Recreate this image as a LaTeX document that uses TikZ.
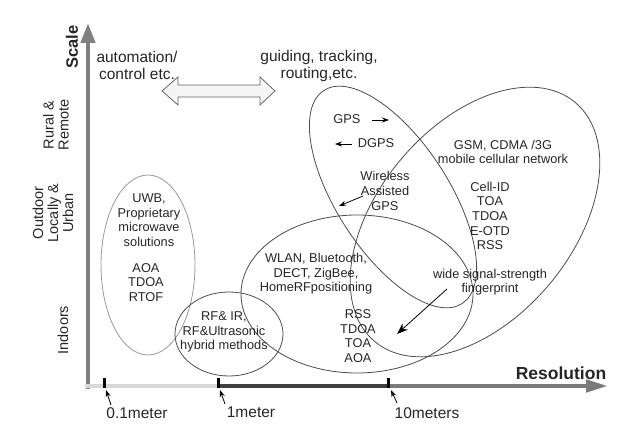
\documentclass[tikz,border=0pt]{standalone}
\usepackage{fontspec}
\setmainfont{Liberation Sans}
\usepackage{tikz}
\usetikzlibrary{arrows.meta,positioning,calc}

\begin{document}
\begin{tikzpicture}[x=1pt,y=-1pt,
    lbl/.style={font=\fontsize{12.8}{14.6}\selectfont,align=center,text=black!85,inner sep=0pt},
    toplbl/.style={font=\fontsize{15.5}{17}\selectfont,align=center,text=black!85,inner sep=0pt},
    sidelbl/.style={font=\fontsize{14.5}{15}\selectfont,align=center,rotate=90,text=black!85,inner sep=0pt},
    region/.style={draw=black!70,line width=0.8pt},
    ptr/.style={-{Stealth[length=7pt,width=5pt]},line width=0.8pt,black},
    tickmark/.style={fill=black}]
      \useasboundingbox (0,0) rectangle (622,446);
      % Axes
      \draw[line width=4.5pt,black!50,-{Triangle[length=20pt,width=14pt]}] (88,389) -- (88,23);
      \draw[line width=3.5pt,black!15] (85,386) -- (218,386);
      \draw[line width=4.5pt,black!75] (218,386) -- (388,386);
      \draw[line width=4.5pt,black!52,-{Triangle[length=22pt,width=12pt]}] (388,386) -- (608,386);
      \node[font=\bfseries\fontsize{16.5}{18}\selectfont,rotate=90,text=black!85] (scale) at (72,47) {Scale};
      \node[font=\bfseries\fontsize{17.5}{19}\selectfont,text=black!85] (res) at (561,373) {Resolution};
      % Scale levels
      \node[sidelbl] (rural) at (56,125) {Rural \&\\Remote};
      \node[sidelbl] (outdoor) at (53,213) {Outdoor\\Locally \&\\Urban};
      \node[sidelbl] (indoor) at (63,330) {Indoors};
      % Resolution marks
      \fill[tickmark] (102.5,378) rectangle (105.5,388);
      \fill[tickmark] (216.5,378) rectangle (219.5,388);
      \fill[tickmark] (386.5,378) rectangle (389.5,388);
      \node[toplbl] (m01) at (137,413) {0.1meter};
      \node[toplbl] (m1) at (251,412) {1meter};
      \node[toplbl] (m10) at (427,413) {10meters};
      \coordinate (a01) at (111,405); \coordinate (t01) at (106,390);
      \coordinate (a1) at (225,404); \coordinate (t1) at (220,390);
      \coordinate (a10) at (397,403); \coordinate (t10) at (391,390);
      \draw[ptr] (a01) -- (t01);
      \draw[ptr] (a1) -- (t1);
      \draw[ptr] (a10) -- (t10);
      % Applications
      \node[toplbl] (auto) at (137,65.5) {automation/\\control etc.};
      \node[toplbl] (guide) at (319,65.5) {guiding, tracking,\\routing,etc.};
      \draw[black!60,fill=black!4,line width=0.8pt] (162,91) -- (178,77) -- (178,85) -- (260,85)
        -- (260,77) -- (275,91) -- (260,105) -- (260,97) -- (178,97) -- (178,105) -- cycle;
      % Technology regions
      \draw[black!40,line width=0.8pt] (148,265) ellipse (47 and 90);
      \draw[region] (229,334) ellipse (54 and 42);
      \draw[region] (357,294) ellipse (116 and 79);
      \draw[region,rotate around={-57:(393,197)}] (393,197) ellipse (127 and 56);
      \draw[region,rotate around={50:(475,222)}] (475,222) ellipse (156 and 97);
      % Region labels
      \node[lbl] (uwb) at (149,220) {UWB,\\Proprietary\\microwave\\solutions};
      \node[lbl] (uwbm) at (146,282.5) {AOA\\TDOA\\RTOF};
      \node[lbl] (rf) at (224,332) {RF\& IR,\\RF\&Ultrasonic\\hybrid methods};
      \node[lbl] (wlan) at (316,274) {WLAN, Bluetooth,\\DECT, ZigBee,\\HomeRFpositioning};
      \node[lbl] (wlanm) at (358,336) {RSS\\TDOA\\TOA\\AOA};
      \node[lbl] (gps) at (347,119) {GPS};
      \node[lbl] (dgps) at (376,143) {DGPS};
      \node[lbl] (agps) at (385,191) {Wireless\\Assisted\\GPS};
      \node[lbl] (gsm) at (503,152) {GSM, CDMA /3G\\mobile cellular network};
      \node[lbl] (gsmm) at (490,216) {Cell-ID\\TOA\\TDOA\\E-OTD\\RSS};
      \node[lbl] (fp) at (490,282) {wide signal-strength\\fingerprint};
      % Pointers
      \coordinate (gpsA) at (372,120); \coordinate (gpsB) at (389,120);
      \coordinate (dgpsA) at (352,144); \coordinate (dgpsB) at (335,144);
      \coordinate (agpsA) at (363,196); \coordinate (agpsB) at (339,206);
      \coordinate (fpA) at (447,289); \coordinate (fpB) at (397,334);
      \draw[ptr] (gpsA) -- (gpsB);
      \draw[ptr] (dgpsA) -- (dgpsB);
      \draw[ptr] (agpsA) -- (agpsB);
      \draw[-{Stealth[length=11pt,width=8pt]},line width=0.8pt] (fpA) -- (fpB);
    \end{tikzpicture}
\end{document}
